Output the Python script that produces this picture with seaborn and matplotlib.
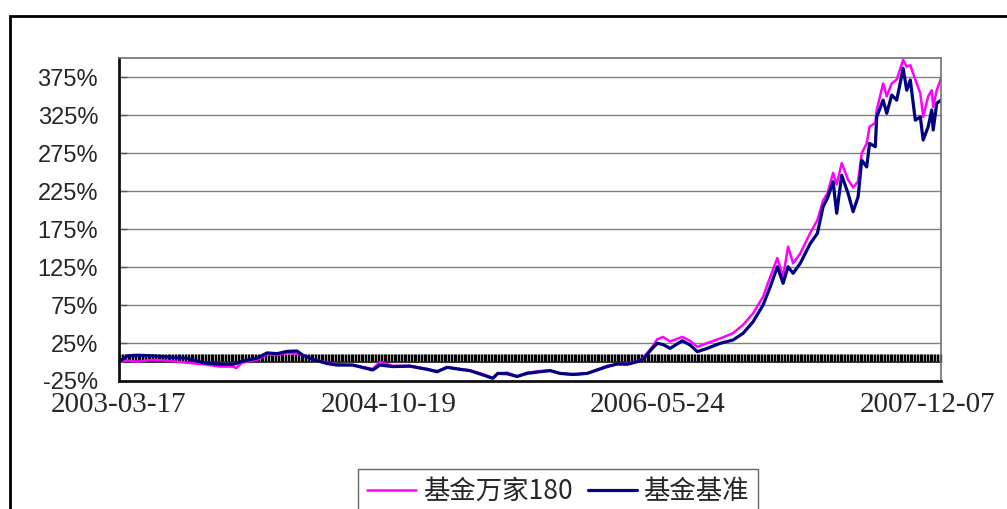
import matplotlib
matplotlib.use("Agg")
import matplotlib.pyplot as plt
from matplotlib.patches import Rectangle
import seaborn as sns
import pandas as pd

# trading-day index (0 = 2003-03-17), cumulative return in %
day_idx = [0, 11, 25, 48, 76, 95, 118, 141, 159, 164, 172, 193, 207, 221, 235, 249,
           257, 271, 291, 305, 327, 355, 365, 383, 407, 431, 445, 459, 477, 491, 509,
           523, 530, 543, 557, 571, 589, 603, 617, 635, 655, 669, 683, 697, 711, 725,
           733, 746, 753, 761, 771, 788, 799, 809, 823, 841, 859, 873, 887, 901, 911,
           921, 929, 936, 943, 953, 967, 977, 985, 991, 999, 1004, 1011, 1020, 1027,
           1034, 1039, 1046, 1050, 1058, 1060, 1069, 1074, 1081, 1088, 1097, 1102,
           1107, 1114, 1121, 1125, 1132, 1137, 1139, 1144, 1150]

fund = [0, 2, 0.5, 3, 1, -1, -3, -6, -6, -8, -1, 3, 10, 9, 12, 11,
        9, 3.5, -1, -3, -4, -9, 0, -5, -5, -9, -12, -7, -9, -11, -16,
        -21, -15, -14, -19, -14, -12, -11, -15, -17, -15, -10, -5, -3, -2, 1,
        5, 20, 30, 33, 27, 33, 28, 20, 25, 31, 38, 49, 64, 86, 112,
        137, 112, 152, 130, 143, 170, 187, 213, 222, 249, 234, 262, 240, 230,
        238, 275, 288, 310, 315, 332, 367, 350, 367, 372, 398, 389,
        391, 372, 354, 323, 350, 358, 336, 358, 374]

bench = [0, 8, 9, 8, 6, 5, -1, -3, -3, -2, 1, 5, 12, 11, 14, 14.5,
         9, 3.5, -2, -4, -4, -10.5, -4, -6, -5.5, -9.7, -12.8, -7, -9.7, -11.4, -17,
         -21.5, -15, -15.5, -19, -15, -12.8, -11.4, -15, -16.3, -15, -10.5, -6, -2.6, -3, 0.4,
         3.5, 18, 24.6, 23, 18, 28, 22.4, 13.6, 18, 24.6, 29, 37.8, 53, 75, 99,
         125.5, 103.7, 125.5, 116.8, 130, 156, 169.5, 204.6, 215.6, 237.5, 196, 246, 222, 198,
         217.8, 266, 257, 288, 283.6, 323, 345, 327.6, 351.7, 345, 386.9, 358,
         371.5, 318.6, 323, 292.4, 310, 332, 305.6, 340.8, 345]

series_names = ["基金万家180", "基金基准"]
tick_idx = [0, 377, 754, 1131]
tick_labels = ["2003-03-17", "2004-10-19", "2006-05-24", "2007-12-07"]
y_ticks = [-25, 25, 75, 125, 175, 225, 275, 325, 375]

df = pd.concat([
    pd.DataFrame({"day": day_idx, "ret": fund, "name": series_names[0]}),
    pd.DataFrame({"day": day_idx, "ret": bench, "name": series_names[1]}),
])

sns.set_style("white")
plt.rcParams["font.family"] = ["Liberation Sans", "Noto Sans CJK SC", "DejaVu Sans"]

fig = plt.figure(figsize=(10.07, 5.09), dpi=100)
ax = fig.add_axes([0.1182, 0.2515, 0.8163, 0.6338])

sns.lineplot(data=df, x="day", y="ret", hue="name", hue_order=series_names,
             palette=["#FF00FF", "#000080"], estimator=None, sort=False,
             legend=False, ax=ax)
ax.lines[0].set_linewidth(1.8)
ax.lines[1].set_linewidth(2.3)

ax.set_xlim(0, 1150)
ax.set_ylim(-25, 400)
ax.set_xlabel("")
ax.set_ylabel("")

ax.set_yticks(y_ticks)
ax.set_yticklabels([f"{v}%" for v in y_ticks], fontsize=17)
ax.tick_params(axis="y", direction="in", length=6, width=1, color="#555555", pad=15, left=True)
ax.grid(axis="y", color="#808080", lw=1)
ax.set_axisbelow(True)

ax.set_xticks(tick_idx)
ax.set_xticklabels(tick_labels, fontsize=21, family="Liberation Serif")
ax.tick_params(axis="x", length=0, pad=8)

for s in ["left", "bottom"]:
    ax.spines[s].set_color("#111111")
    ax.spines[s].set_linewidth(2)
for s in ["top", "right"]:
    ax.spines[s].set_color("#707070")
    ax.spines[s].set_linewidth(1.2)

# dense category ticks along the 0% line
zero_ax = ax.secondary_xaxis(25 / 425)
zero_ax.set_xticks(range(0, 1151, 2))
zero_ax.tick_params(direction="in", length=6, width=1.0, color="black", labelbottom=False,
                    labeltop=False)
zero_ax.spines["bottom"].set_linewidth(1.2)

fig.patches.append(Rectangle((10 / 1007, -0.2), 1.2, 1.2 - 16 / 509, transform=fig.transFigure,
                             fill=False, edgecolor="black", lw=2))

fig.legend(handles=ax.lines[:2], labels=series_names, loc="upper center",
           bbox_to_anchor=(558 / 1007, 1 - 469 / 509), borderaxespad=0, ncol=2,
           frameon=True, fancybox=False, edgecolor="#404040", handlelength=1.85,
           handletextpad=0.25, columnspacing=0.6, borderpad=0.35,
           prop={"family": "Noto Sans CJK SC", "size": 19})

fig.savefig("out.png", dpi=100)
